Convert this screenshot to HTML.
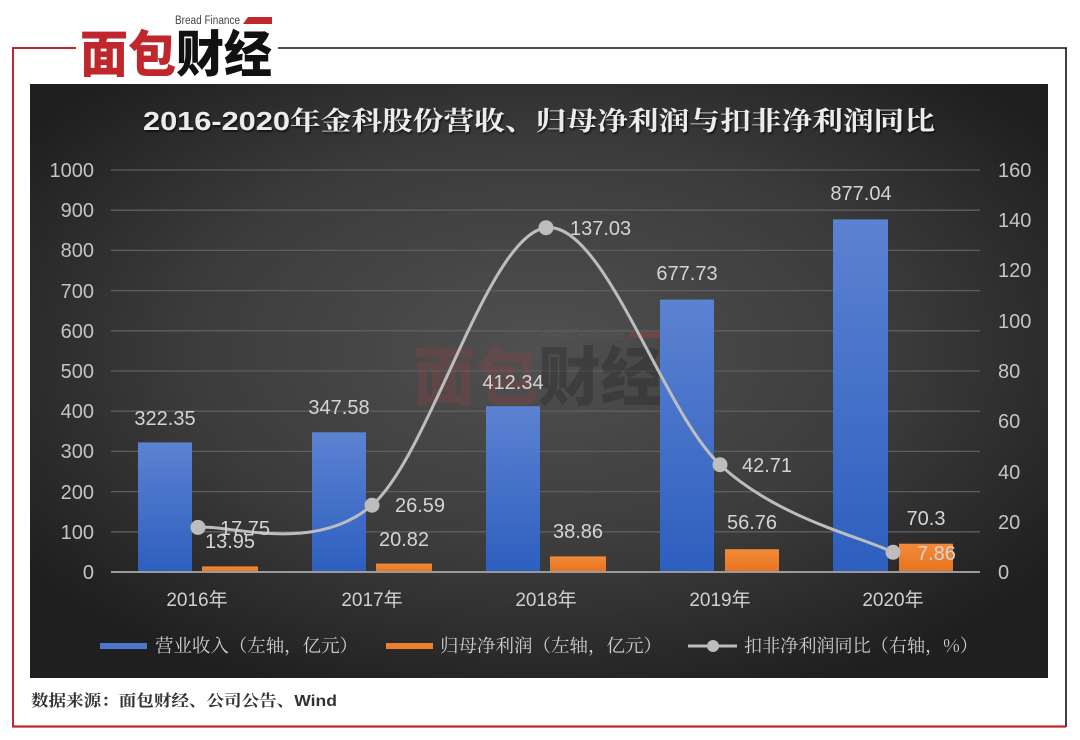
<!DOCTYPE html>
<html>
<head>
<meta charset="utf-8">
<style>
html,body{margin:0;padding:0;background:#fff;}
body{width:1080px;height:740px;overflow:hidden;}
svg{display:block;}
</style>
</head>
<body>
<svg width="1080" height="740" viewBox="0 0 1080 740" xmlns="http://www.w3.org/2000/svg">
  <defs>
    <radialGradient id="bg" cx="50%" cy="45%" r="62%">
      <stop offset="0" stop-color="#505050"/>
      <stop offset="0.55" stop-color="#3c3c3c"/>
      <stop offset="1" stop-color="#1f1f1f"/>
    </radialGradient>
    <linearGradient id="gb" x1="0" y1="0" x2="0" y2="1">
      <stop offset="0" stop-color="#5c82d2"/>
      <stop offset="1" stop-color="#2d5fbf"/>
    </linearGradient>
    <linearGradient id="go" x1="0" y1="0" x2="0" y2="1">
      <stop offset="0" stop-color="#f28a3a"/>
      <stop offset="1" stop-color="#e8731f"/>
    </linearGradient>
    <filter id="sh" x="-5%" y="-20%" width="110%" height="140%">
      <feDropShadow dx="1" dy="1.5" stdDeviation="1" flood-color="#000" flood-opacity="0.8"/>
    </filter>
  </defs>

  <!-- frame -->
  <line x1="13" y1="48" x2="13" y2="727" stroke="#c0272d" stroke-width="2"/>
  <line x1="12" y1="48" x2="76" y2="48" stroke="#c0272d" stroke-width="2"/>
  <line x1="278" y1="48" x2="1067" y2="48" stroke="#111" stroke-width="1.6"/>
  <line x1="1066" y1="48" x2="1066" y2="727" stroke="#111" stroke-width="1.6"/>
  <line x1="12" y1="726.5" x2="1066" y2="726.5" stroke="#c0272d" stroke-width="2.2"/>

  <!-- logo -->
  <text x="175" y="24" font-family="Liberation Sans, sans-serif" font-size="11.5" fill="#444" textLength="65" lengthAdjust="spacingAndGlyphs">Bread Finance</text>
  <polygon points="248,17 272,17 272,24 243,24" fill="#c0272d"/>
  <text x="80" y="72" font-family="'Noto Sans CJK SC', sans-serif" font-weight="900" font-size="50" textLength="192" lengthAdjust="spacingAndGlyphs"><tspan fill="#c0272d">面包</tspan><tspan fill="#111">财经</tspan></text>

  <!-- dark panel -->
  <rect x="30" y="84" width="1018" height="594" fill="url(#bg)"/>

  <!-- title -->
  <text x="143" y="130" font-family="'Liberation Sans','Noto Serif CJK SC', serif" font-weight="bold" font-size="26" fill="#ececec" filter="url(#sh)" textLength="792" lengthAdjust="spacingAndGlyphs">2016-2020年金科股份营收、归母净利润与扣非净利润同比</text>

  <!-- gridlines -->
  <g stroke="#5e5e5e" stroke-width="1.3">
    <line x1="111" y1="170" x2="980" y2="170"/>
    <line x1="111" y1="210.2" x2="980" y2="210.2"/>
    <line x1="111" y1="250.4" x2="980" y2="250.4"/>
    <line x1="111" y1="290.6" x2="980" y2="290.6"/>
    <line x1="111" y1="330.8" x2="980" y2="330.8"/>
    <line x1="111" y1="371" x2="980" y2="371"/>
    <line x1="111" y1="411.2" x2="980" y2="411.2"/>
    <line x1="111" y1="451.4" x2="980" y2="451.4"/>
    <line x1="111" y1="491.6" x2="980" y2="491.6"/>
    <line x1="111" y1="531.8" x2="980" y2="531.8"/>
  </g>

  <!-- watermark -->
  <g>
    <text x="538" y="339" font-family="Liberation Sans, sans-serif" font-size="13" fill="#555" textLength="87" lengthAdjust="spacingAndGlyphs">Bread Finance</text>
    <rect x="630" y="332" width="36" height="6" fill="#8a4444" opacity="0.55"/>
    <text x="413" y="400" font-family="'Noto Sans CJK SC', sans-serif" font-weight="900" font-size="64" textLength="250" lengthAdjust="spacingAndGlyphs"><tspan fill="#b04040" fill-opacity="0.22">面包</tspan><tspan fill="#1a1a1a" fill-opacity="0.28">财经</tspan></text>
  </g>

  <!-- left axis labels -->
  <g font-family="Liberation Sans, sans-serif" font-size="20" fill="#c4c4c4" text-anchor="end">
    <text x="94" y="177">1000</text>
    <text x="94" y="217">900</text>
    <text x="94" y="257">800</text>
    <text x="94" y="298">700</text>
    <text x="94" y="338">600</text>
    <text x="94" y="378">500</text>
    <text x="94" y="418">400</text>
    <text x="94" y="458">300</text>
    <text x="94" y="499">200</text>
    <text x="94" y="539">100</text>
    <text x="94" y="579">0</text>
  </g>
  <!-- right axis labels -->
  <g font-family="Liberation Sans, sans-serif" font-size="20" fill="#c4c4c4" text-anchor="start">
    <text x="998" y="177">160</text>
    <text x="998" y="227">140</text>
    <text x="998" y="277">120</text>
    <text x="998" y="328">100</text>
    <text x="998" y="378">80</text>
    <text x="998" y="428">60</text>
    <text x="998" y="479">40</text>
    <text x="998" y="529">20</text>
    <text x="998" y="579">0</text>
  </g>

  <!-- bars -->
  <g fill="url(#gb)">
    <rect x="138" y="442.4" width="54" height="129.6"/>
    <rect x="312" y="432.3" width="54" height="139.7"/>
    <rect x="486" y="406.2" width="54" height="165.8"/>
    <rect x="660" y="299.6" width="54" height="272.4"/>
    <rect x="833" y="219.4" width="55" height="352.6"/>
  </g>
  <g fill="url(#go)">
    <rect x="202" y="566.4" width="56" height="5.6"/>
    <rect x="376" y="563.6" width="56" height="8.4"/>
    <rect x="550" y="556.4" width="56" height="15.6"/>
    <rect x="725" y="549.2" width="54" height="22.8"/>
    <rect x="899" y="543.7" width="54" height="28.3"/>
  </g>

  <!-- axis line -->
  <line x1="111" y1="572" x2="980" y2="572" stroke="#9a9a9a" stroke-width="2"/>

  <!-- line series -->
  <path d="M198,527.4 C227,523.7 314,555.2 372,505.2 C430,455.25 488,234.45 546,227.7 C604,220.95 662.2,410.6 720,464.7 C777.8,518.8 864.2,537.7 893,552.3" fill="none" stroke="#bdbdbd" stroke-width="3"/>
  <g fill="#bdbdbd">
    <circle cx="198" cy="527.4" r="7.5"/>
    <circle cx="372" cy="505.2" r="7.5"/>
    <circle cx="546" cy="227.7" r="7.5"/>
    <circle cx="720" cy="464.7" r="7.5"/>
    <circle cx="893" cy="552.3" r="7.5"/>
  </g>

  <!-- data labels -->
  <g font-family="Liberation Sans, sans-serif" font-size="20" fill="#d4d4d4">
    <g text-anchor="middle">
      <text x="165" y="425">322.35</text>
      <text x="339" y="414">347.58</text>
      <text x="513" y="389">412.34</text>
      <text x="687" y="280">677.73</text>
      <text x="861" y="200">877.04</text>
      <text x="230" y="548">13.95</text>
      <text x="404" y="546">20.82</text>
      <text x="578" y="538">38.86</text>
      <text x="752" y="529">56.76</text>
      <text x="926" y="525">70.3</text>
    </g>
    <g text-anchor="start">
      <text x="220" y="535">17.75</text>
      <text x="395" y="512">26.59</text>
      <text x="570" y="235">137.03</text>
      <text x="742" y="472">42.71</text>
      <text x="917" y="560">7.86</text>
    </g>
  </g>

  <!-- category labels -->
  <g font-family="'Liberation Sans','Noto Sans CJK SC', sans-serif" font-size="19" fill="#d0d0d0" text-anchor="middle">
    <text x="197" y="606">2016年</text>
    <text x="372" y="606">2017年</text>
    <text x="546" y="606">2018年</text>
    <text x="720" y="606">2019年</text>
    <text x="893" y="606">2020年</text>
  </g>

  <!-- legend -->
  <rect x="100" y="643" width="47" height="6" fill="#4a76cc"/>
  <rect x="386" y="643" width="47" height="6" fill="#ee7f2f"/>
  <line x1="688" y1="646" x2="737" y2="646" stroke="#bdbdbd" stroke-width="3"/>
  <circle cx="713" cy="646" r="6" fill="#bdbdbd"/>
  <g font-family="'Noto Serif CJK SC', serif" font-size="18" fill="#cfcfcf">
    <text x="155" y="652" textLength="203" lengthAdjust="spacingAndGlyphs">营业收入（左轴，亿元）</text>
    <text x="440" y="652" textLength="222" lengthAdjust="spacingAndGlyphs">归母净利润（左轴，亿元）</text>
    <text x="744" y="652" textLength="234" lengthAdjust="spacingAndGlyphs">扣非净利润同比（右轴，%）</text>
  </g>

  <!-- source -->
  <text x="31" y="706" font-family="'Liberation Sans','Noto Serif CJK SC', serif" font-weight="bold" font-size="16" fill="#333" textLength="306" lengthAdjust="spacingAndGlyphs">数据来源：面包财经、公司公告、Wind</text>
</svg>
</body>
</html>
